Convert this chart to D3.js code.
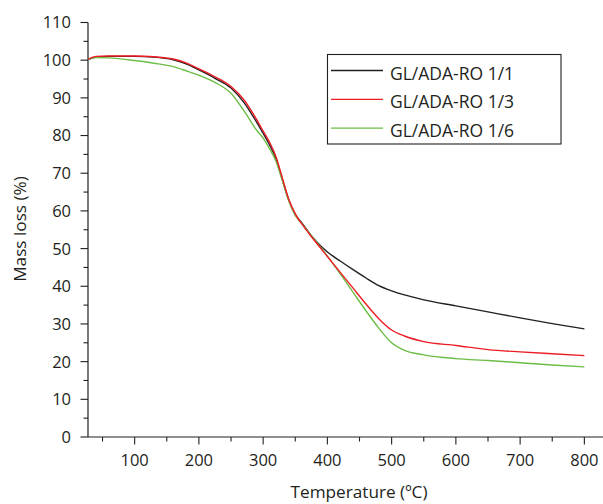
<!DOCTYPE html>
<html>
<head>
<meta charset="utf-8">
<script src="https://cdn.jsdelivr.net/npm/d3@7"></script>
<style>
  html, body { margin: 0; padding: 0; background: #fff; }
  svg { display: block; }
  text { font-family: "Open Sans", sans-serif; fill: #231f20; }
</style>
</head>
<body>
<script>
// ---- data ----
const temperature = [28, 40, 60, 100, 130, 160, 180, 200, 225, 250, 270, 290, 300, 310, 320, 330, 340, 350, 360, 375, 390, 400, 420, 440, 460, 480, 500, 520, 550, 600, 650, 700, 750, 800];
const series11 = [100.2, 100.8, 101.0, 101.0, 100.8, 100.1, 99.0, 97.4, 95.2, 92.6, 88.8, 83.5, 80.6, 77.5, 73.8, 68.2, 62.8, 59.0, 56.9, 53.4, 50.6, 49.1, 46.7, 44.4, 42.2, 40.2, 38.8, 37.7, 36.4, 34.8, 33.2, 31.6, 30.1, 28.7];
const series13 = [100.3, 101.0, 101.1, 101.1, 100.9, 100.3, 99.3, 97.7, 95.6, 93.0, 89.5, 84.2, 81.2, 78.2, 74.4, 68.7, 63.0, 59.2, 56.6, 53.2, 50.0, 47.9, 43.7, 39.5, 35.3, 31.4, 28.4, 26.8, 25.3, 24.3, 23.2, 22.6, 22.1, 21.6];
const series16 = [100.2, 100.7, 100.6, 99.9, 99.2, 98.3, 97.2, 96.0, 94.1, 91.2, 86.6, 81.4, 79.3, 76.5, 73.2, 68.0, 62.6, 58.8, 56.7, 53.4, 50.2, 48.0, 43.3, 38.4, 33.5, 28.9, 25.0, 23.0, 21.8, 20.8, 20.3, 19.7, 19.1, 18.6];
const seriesNames = ["GL/ADA-RO 1/1", "GL/ADA-RO 1/3", "GL/ADA-RO 1/6"];
const seriesColors = ["#231f20", "#ed1c24", "#6cbd45"];
const xTicks = [100, 200, 300, 400, 500, 600, 700, 800];
const yTicks = [0, 10, 20, 30, 40, 50, 60, 70, 80, 90, 100, 110];
const xLabel = "Temperature (ºC)";
const yLabel = "Mass loss (%)";

// ---- layout ----
const W = 603, H = 504;
const svg = d3.select("body").append("svg").attr("width", W).attr("height", H);

const x = d3.scaleLinear().domain([27.4, 829]).range([88, 603]);
const y = d3.scaleLinear().domain([0, 110]).range([437, 22.5]);

const axisColor = "#231f20";

// X axis
const gx = svg.append("g").attr("transform", `translate(0,${y(0)})`);
gx.append("line").attr("x1", x.range()[0]).attr("x2", x.range()[1]).attr("stroke", axisColor).attr("stroke-width", 1.2);
const xMinor = d3.range(50, 830, 50).filter(v => v % 100 !== 0);
gx.selectAll(".xmin").data(xMinor).enter().append("line")
  .attr("x1", d => x(d)).attr("x2", d => x(d)).attr("y1", 0).attr("y2", 4.5)
  .attr("stroke", axisColor).attr("stroke-width", 1.1);
gx.selectAll(".xmaj").data(xTicks).enter().append("line")
  .attr("x1", d => x(d)).attr("x2", d => x(d)).attr("y1", 0).attr("y2", 7.5)
  .attr("stroke", axisColor).attr("stroke-width", 1.1);
gx.selectAll(".xlab").data(xTicks).enter().append("text")
  .attr("x", d => x(d)).attr("y", 28.5).attr("text-anchor", "middle")
  .attr("font-size", 16.5).text(d => d);

// Y axis
const gy = svg.append("g").attr("transform", `translate(${x.range()[0]},0)`);
gy.append("line").attr("y1", y(0)).attr("y2", y(110)).attr("stroke", axisColor).attr("stroke-width", 1.2);
const yMinor = d3.range(5, 110, 10);
gy.selectAll(".ymin").data(yMinor).enter().append("line")
  .attr("y1", d => y(d)).attr("y2", d => y(d)).attr("x1", 0).attr("x2", -4.5)
  .attr("stroke", axisColor).attr("stroke-width", 1.1);
gy.selectAll(".ymaj").data(yTicks).enter().append("line")
  .attr("y1", d => y(d)).attr("y2", d => y(d)).attr("x1", 0).attr("x2", -7.5)
  .attr("stroke", axisColor).attr("stroke-width", 1.1);
gy.selectAll(".ylab").data(yTicks).enter().append("text")
  .attr("x", -17).attr("y", d => y(d)).attr("dy", "0.36em").attr("text-anchor", "end")
  .attr("font-size", 16.5).text(d => d);

// axis titles
svg.append("text").attr("x", 359).attr("y", 498).attr("text-anchor", "middle")
  .attr("font-size", 17.2).text(xLabel);
svg.append("text").attr("transform", `translate(26,229) rotate(-90)`).attr("text-anchor", "middle")
  .attr("font-size", 17.2).text(yLabel);

// lines
const allSeries = [series11, series13, series16];
const line = d3.line().x(d => x(d[0])).y(d => y(d[1])).curve(d3.curveMonotoneX);
// draw order: black, green, red so red shows on top early
[0, 2, 1].forEach(i => {
  svg.append("path")
    .datum(temperature.map((t, j) => [t, allSeries[i][j]]))
    .attr("fill", "none").attr("stroke", seriesColors[i]).attr("stroke-width", 1.4)
    .attr("d", line);
});

// legend
const lg = svg.append("g");
lg.append("rect").attr("x", 327.5).attr("y", 54.5).attr("width", 233.5).attr("height", 89.5)
  .attr("fill", "#fff").attr("stroke", axisColor).attr("stroke-width", 1.1);
seriesNames.forEach((name, i) => {
  const ly = 70.5 + i * 28.8;
  lg.append("line").attr("x1", 331).attr("x2", 383).attr("y1", ly).attr("y2", ly)
    .attr("stroke", seriesColors[i]).attr("stroke-width", 1.3);
  lg.append("text").attr("x", 390).attr("y", ly + 9).attr("font-size", 17.5).text(name);
});
</script>
</body>
</html>
